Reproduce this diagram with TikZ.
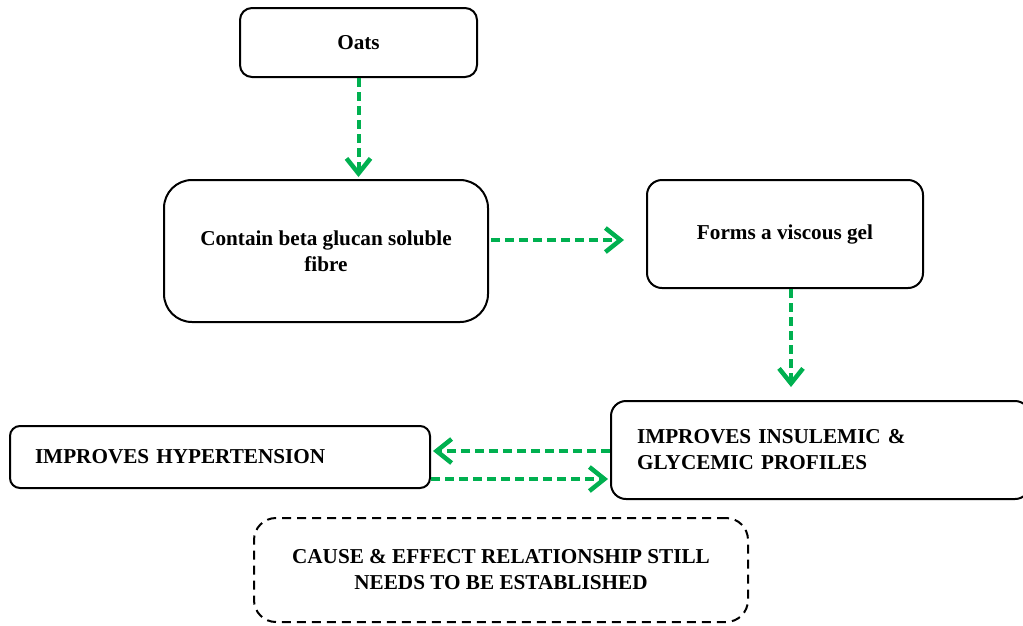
\documentclass[tikz,border=0pt]{standalone}
\usepackage{fontspec}
\setmainfont{Liberation Serif}
\usetikzlibrary{arrows.meta}
\definecolor{flowgreen}{RGB}{0,176,80}
\tikzset{
  box/.style={draw=black, line width=2pt, fill=white, font=\bfseries\fontsize{21.2}{26}\selectfont, inner sep=0pt},
  flow/.style={draw=flowgreen, line width=4pt, dash pattern=on 9pt off 5pt,
    -{Straight Barb[length=15pt,width=24pt,line width=4.5pt,line join=miter,line cap=butt]}},
}
\begin{document}
\begin{tikzpicture}[x=1pt,y=-1pt]
\useasboundingbox (0,0) rectangle (1023,625);
\node[box, rounded corners=12pt, minimum width=237pt, minimum height=69pt] (oats) at (358.5,42.5) {Oats};
\node[box, rounded corners=28pt, minimum width=324pt, minimum height=142pt, align=center] (fibre) at (326,251) {Contain beta glucan soluble\\fibre};
\node[box, rounded corners=15pt, minimum width=276pt, minimum height=108pt] (gel) at (785,234) {Forms a viscous gel};
\node[box, rounded corners=15pt, minimum width=419pt, minimum height=98pt, text width=367pt, align=left] (insul) at (820.5,450) {IMPROVES INSULEMIC \&\\GLYCEMIC PROFILES};
\node[box, rounded corners=10pt, minimum width=420pt, minimum height=62pt, text width=370pt, align=left] (hyper) at (220,457) {IMPROVES HYPERTENSION};
\node[box, dashed, dash pattern=on 9pt off 6pt, rounded corners=22pt, minimum width=494pt, minimum height=104pt, align=center] (note) at (501,570) {CAUSE \& EFFECT RELATIONSHIP STILL\\NEEDS TO BE ESTABLISHED};
\draw[flow, shorten >=2pt] (oats.south) -- (oats.south |- fibre.north);
\draw[flow, shorten <=2pt, shorten >=22pt] ([yshift=11pt]fibre.east) -- ([yshift=-6pt]gel.west);
\draw[flow, shorten >=13pt] ([xshift=6pt]gel.south) -- ([xshift=6pt]gel.south |- insul.north);
\draw[flow, shorten >=2pt] ([yshift=-1pt]insul.west) -- ([yshift=6pt]hyper.east);
\draw[flow, shorten >=2pt] ([yshift=-22pt]hyper.east) -- ([yshift=-29pt]insul.west);
\end{tikzpicture}
\end{document}
